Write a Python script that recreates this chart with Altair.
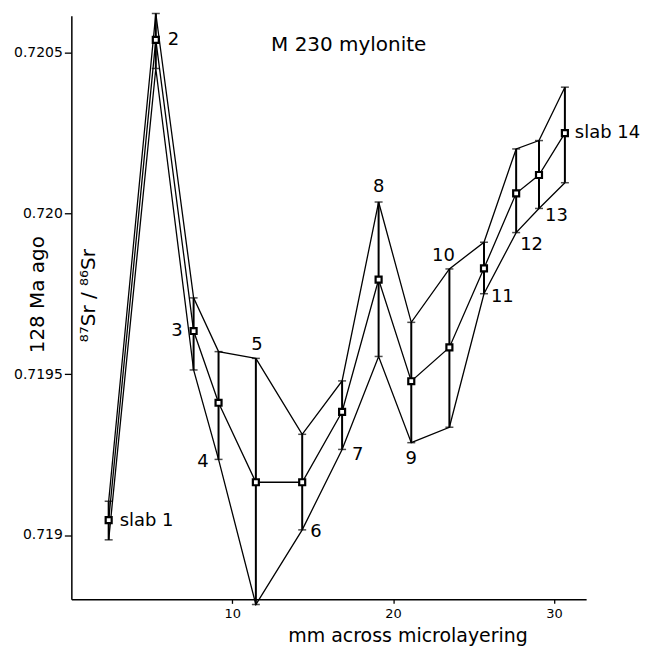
import altair as alt
import pandas as pd

# ---------------- data ----------------
slab_no = list(range(1, 15))
x_mm = [2.32, 5.25, 7.60, 9.15, 11.47, 14.35, 16.83, 19.10, 21.13, 23.50, 25.65, 27.65, 29.07, 30.68]
sr_mid = [0.719046, 0.720539, 0.719634, 0.719411, 0.719164, 0.719164, 0.719383,
          0.719794, 0.719478, 0.719583, 0.719829, 0.720062, 0.720119, 0.720249]
sr_high = [0.719105, 0.720621, 0.719737, 0.719570, 0.719549, 0.719313, 0.719479,
           0.720035, 0.719661, 0.719827, 0.719910, 0.720200, 0.720226, 0.720392]
sr_low = [0.718985, 0.720450, 0.719513, 0.719235, 0.718784, 0.719016, 0.719266,
          0.719555, 0.719287, 0.719335, 0.719750, 0.719940, 0.720015, 0.720095]
point_labels = ["slab 1", "2", "3", "4", "5", "6", "7", "8", "9", "10", "11", "12", "13", "slab 14"]
label_anchor = ["mid", "mid", "mid", "low", "high", "low", "low", "high", "low", "high", "low", "low", "low", "mid"]

y_tick_values = [0.719, 0.7195, 0.720, 0.7205]
y_tick_labels = ["0.719", "0.7195", "0.720", "0.7205"]
x_tick_values = [10, 20, 30]

chart_title = "M 230 mylonite"
x_title = "mm across microlayering"
y_title_outer = "128 Ma ago"
y_title_inner = "⁸⁷Sr / ⁸⁶Sr"

X_DOMAIN = [0, 32]
Y_DOMAIN = [0.7188, 0.720614]

# ---------------- style / layout ----------------
FONT = "DejaVu Sans"
INK = "black"
# label placement (pixel offsets from anchor, alignment)
label_place = [
    (11, 1, "left"), (12, 0, "left"), (-11, 0, "right"), (-10, 3, "right"),
    (1, -13, "center"), (8, 2, "left"), (10, 6, "left"), (0, -15, "center"),
    (0, 16, "center"), (-6, -13, "center"), (7, 3, "left"), (4, 12, "left"),
    (6, 8, "left"), (10, 0, "left"),
]

df = pd.DataFrame({
    "slab": slab_no, "x": x_mm, "mid": sr_mid, "high": sr_high, "low": sr_low,
    "label": point_labels,
})
long = df.melt(id_vars=["slab", "x"], value_vars=["high", "mid", "low"],
               var_name="series", value_name="sr")

# label expression for y ticks
expr = "''"
for v, t in reversed(list(zip(y_tick_values, y_tick_labels))):
    expr = f"abs(datum.value - {v}) < 0.00001 ? '{t}' : ({expr})"

xs = alt.Scale(domain=X_DOMAIN, nice=False, zero=False)
ys = alt.Scale(domain=Y_DOMAIN, nice=False, zero=False)

common_axis = dict(grid=False, domainColor=INK, domainWidth=1.5, tickColor=INK, tickWidth=1.3,
                   labelColor=INK, titleColor=INK, labelFont=FONT, titleFont=FONT,
                   labelFontSize=14, titleFontSize=19, titleFontWeight="normal")

x_axis = alt.Axis(values=x_tick_values, title=x_title, tickSize=4, labelPadding=4,
                  labelFontSize=13, titleX=337, titleY=42, titleBaseline="alphabetic",
                  titleAlign="center",
                  **{k: v for k, v in common_axis.items() if k != "labelFontSize"})
y_axis = alt.Axis(values=y_tick_values, labelExpr=expr, title=None,
                  tickSize=7, labelPadding=2, **common_axis)


def X(field):
    return alt.X(f"{field}:Q", scale=xs, axis=x_axis)


def Y(field):
    return alt.Y(f"{field}:Q", scale=ys, axis=y_axis)


lines = alt.Chart(long).mark_line(color=INK, strokeWidth=1.3).encode(
    x=X("x"), y=Y("sr"), detail="series:N", order="x:Q")

bars = alt.Chart(df).mark_rule(color=INK, strokeWidth=2).encode(
    x=X("x"), y=Y("low"), y2="high:Q")

tick_hi = alt.Chart(df).mark_tick(orient="horizontal", color=INK, size=8, thickness=1.5).encode(
    x=X("x"), y=Y("high"))
tick_lo = alt.Chart(df).mark_tick(orient="horizontal", color=INK, size=8, thickness=1.5).encode(
    x=X("x"), y=Y("low"))

squares = alt.Chart(df).mark_point(shape="square", filled=True, fill="white", stroke=INK,
                                   strokeWidth=2.2, size=36, opacity=1).encode(
    x=X("x"), y=Y("mid"))

label_layers = []
for i, (dx, dy, align) in enumerate(label_place):
    label_layers.append(
        alt.Chart(df).transform_filter(alt.datum.slab == slab_no[i]).mark_text(
            font=FONT, fontSize=18, color=INK, dx=dx, dy=dy, align=align, baseline="middle"
        ).encode(x=X("x"), y=Y(label_anchor[i]), text="label:N")
    )

ann = pd.DataFrame({"x": [17.24], "sr": [0.720522], "t": [chart_title]})
title_mark = alt.Chart(ann).mark_text(font=FONT, fontSize=20, color=INK, baseline="middle").encode(
    x=X("x"), y=Y("sr"), text="t:N")

ytitles = pd.DataFrame({"x": [-2.07, 1.08], "sr": [0.719747, 0.719744],
                        "t": [y_title_outer, y_title_inner]})
ytitle_mark = alt.Chart(ytitles).mark_text(font=FONT, fontSize=20, color=INK, angle=270,
                                           baseline="middle", align="center").encode(
    x=X("x"), y=Y("sr"), text="t:N")

chart = alt.layer(
    lines, bars, tick_hi, tick_lo, squares, *label_layers, title_mark, ytitle_mark
).properties(
    width=516, height=585,
    background="white",
    autosize=alt.AutoSizeParams(type="none"),
    padding={"left": 63.5, "top": 7, "right": 55, "bottom": 47},
).configure_view(stroke=None).configure_axis(
    domainColor=INK, domainWidth=1.5, tickColor=INK, tickWidth=1.3,
    labelColor=INK, titleColor=INK, labelFont=FONT, titleFont=FONT,
    titleFontWeight="normal",
)

chart.save("out.html", embed_options={"renderer": "svg", "actions": False})
